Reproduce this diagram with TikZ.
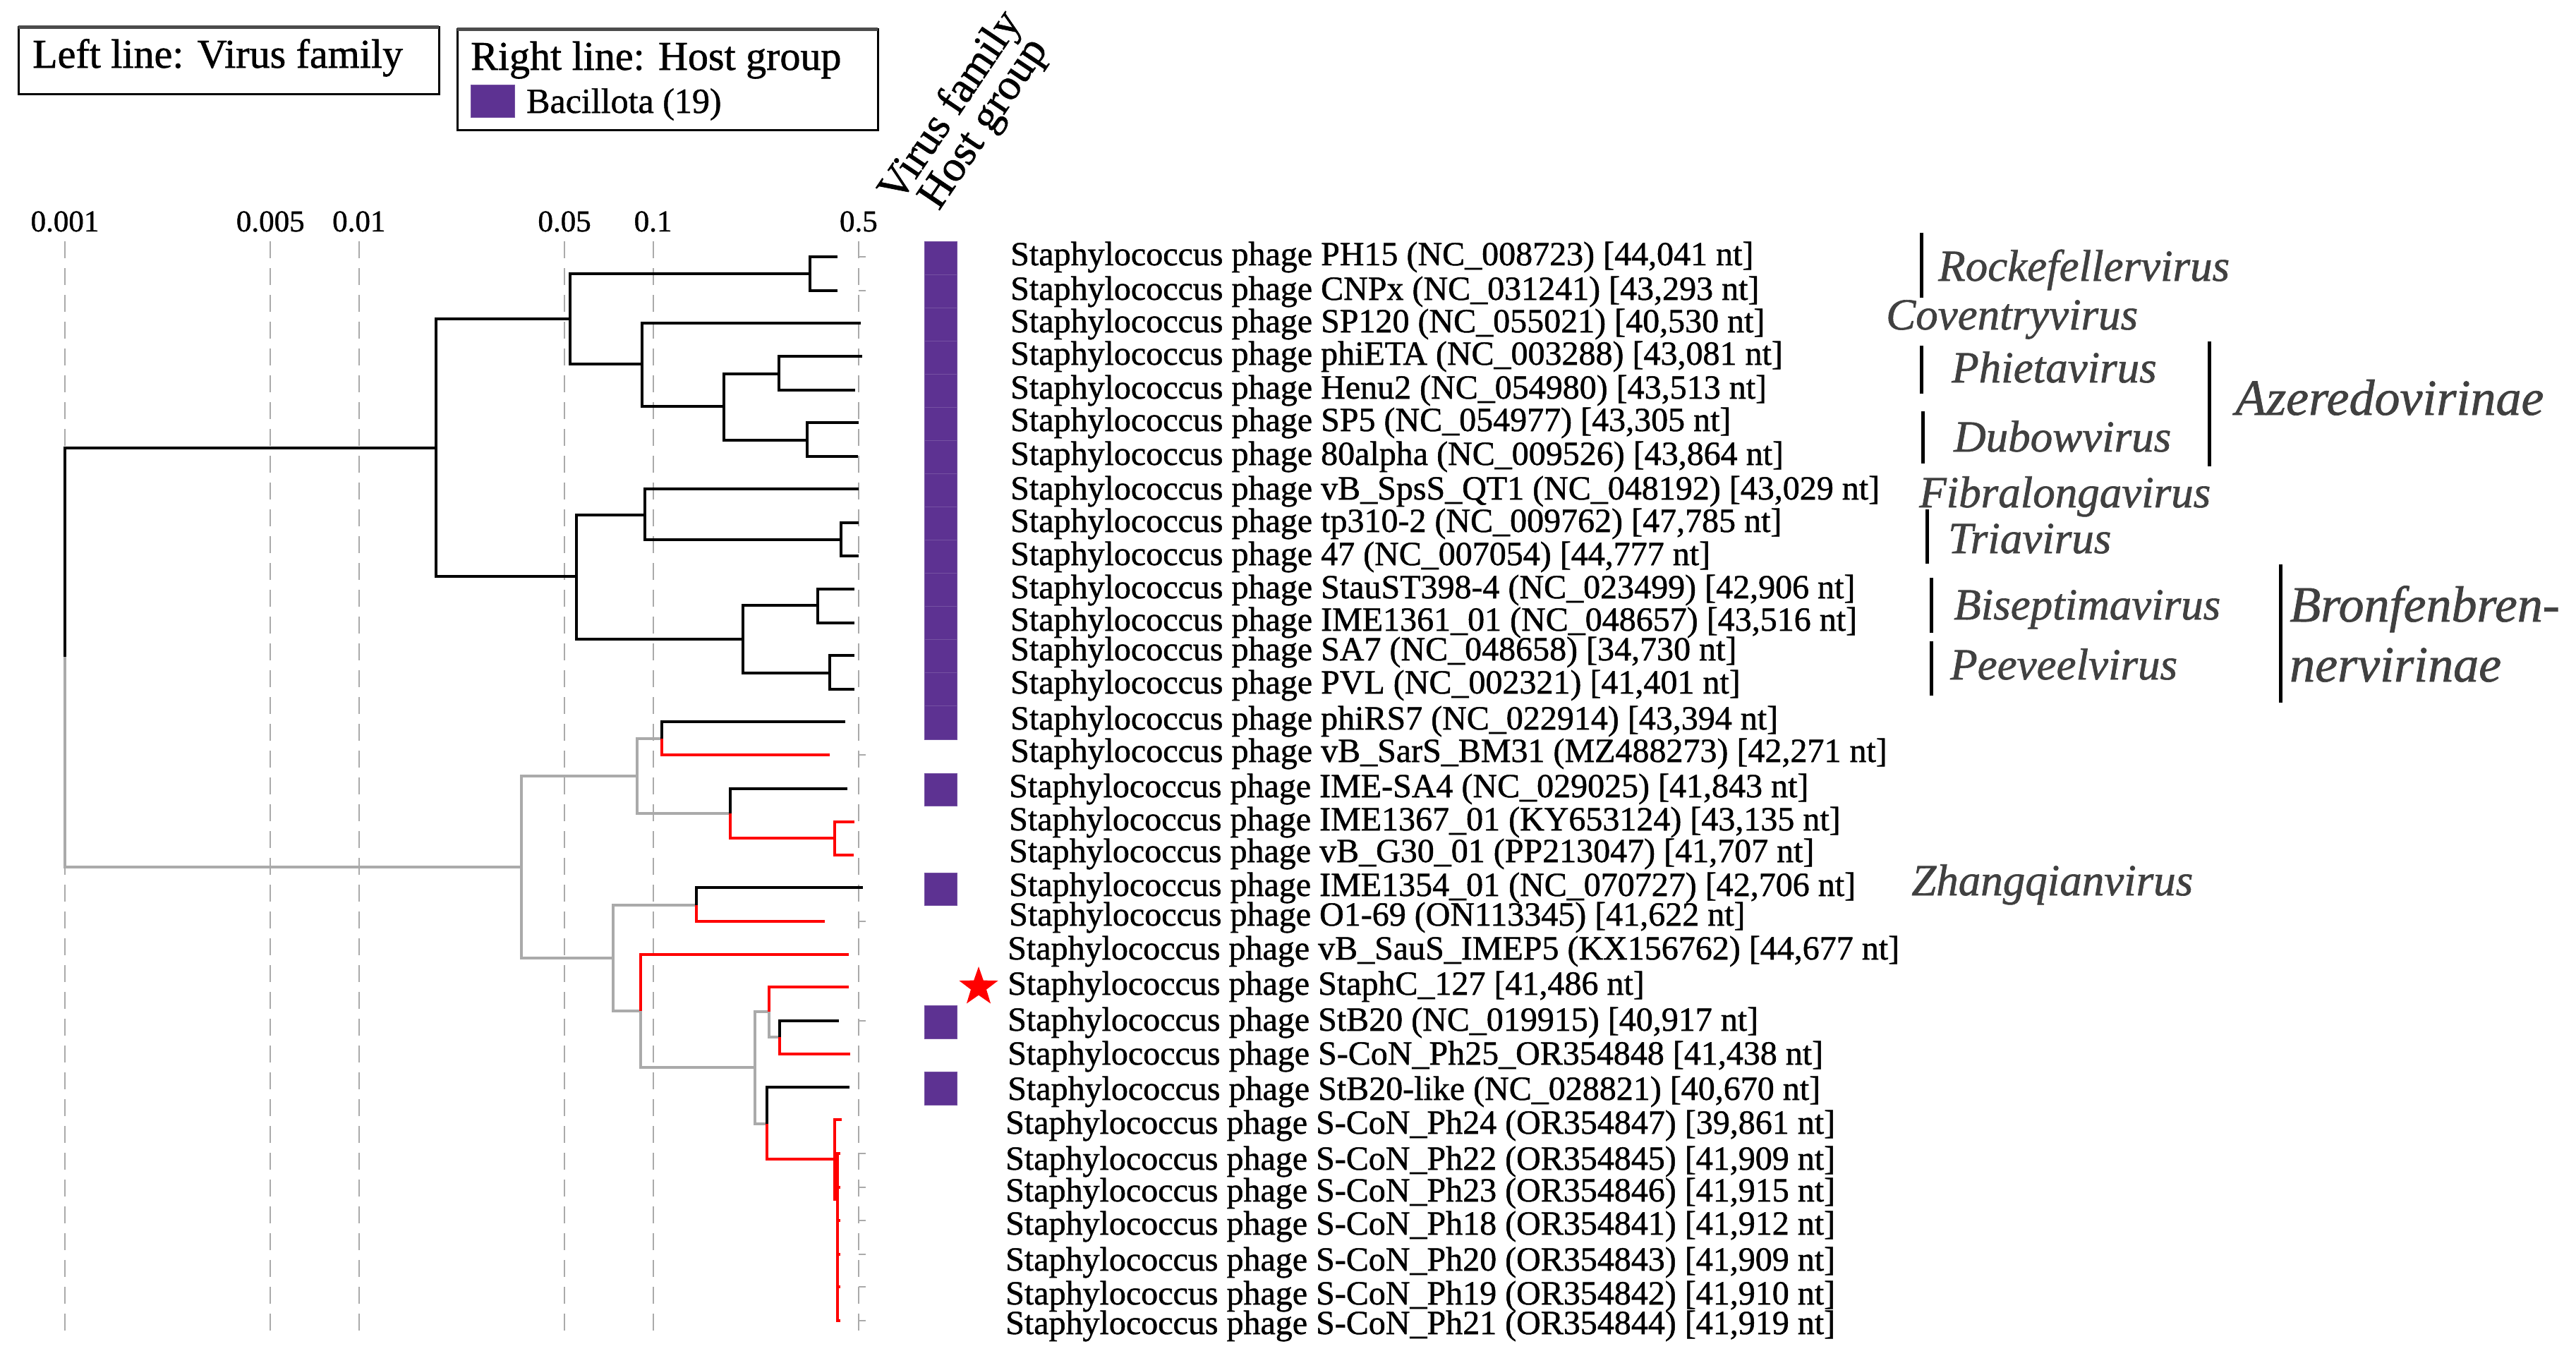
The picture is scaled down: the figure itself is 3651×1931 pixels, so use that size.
\documentclass[tikz,border=0pt]{standalone}
\usepackage{fontspec}
\setmainfont{Liberation Serif}[FakeBold=1]
\usetikzlibrary{shapes.geometric}
\definecolor{bacpurple}{RGB}{93,50,146}
\definecolor{treegrey}{RGB}{170,170,170}
\definecolor{genusgrey}{RGB}{64,64,64}
\begin{document}
\begin{tikzpicture}[x=1pt,y=-1pt,
  blk/.style={draw=black,line width=4pt},
  gry/.style={draw=treegrey,line width=4pt},
  rd/.style={draw=red,line width=4pt},
  grid/.style={draw=treegrey,line width=2.2pt,dash pattern=on 24pt off 14pt},
  tick/.style={draw=treegrey,line width=2.2pt},
  lab/.style={font=\fontsize{48}{50}\selectfont,inner sep=0pt,anchor=base west},
  axlab/.style={font=\fontsize{43}{45}\selectfont,inner sep=0pt},
  leg/.style={font=\fontsize{58}{60}\selectfont,inner sep=0pt,anchor=base west},
  genus/.style={font=\fontsize{63}{65}\selectfont\itshape,text=genusgrey,inner sep=0pt,anchor=base west},
  subfam/.style={font=\fontsize{72}{74}\selectfont\itshape,text=genusgrey,inner sep=0pt,anchor=base west},
  gbar/.style={draw=black,line width=5pt},
  cell/.style={fill=bacpurple,draw=bacpurple!85!white,line width=1pt},
  head/.style={font=\fontsize{62}{64}\selectfont,inner sep=0pt,rotate=56}
]
\useasboundingbox (0,0) rectangle (3651,1931);

% ---------- legends ----------
\draw[line width=3pt] (26,38) rectangle (622,133);
\draw[line width=5pt,draw=black!70] (26,38) -- (622,38);
\node[leg] (legL) at (46,96) {Left line: Virus family};
\draw[line width=3pt] (648,41) rectangle (1244,184);
\draw[line width=5pt,draw=black!70] (648,41) -- (1244,41);
\node[leg] (legR) at (667,99) {Right line: Host group};
\draw[cell] (667,120) rectangle (729,166);
\node[lab,font=\fontsize{50}{52}\selectfont] (legB) at (746,160) {Bacillota (19)};

% ---------- rotated headers ----------
\node[head] (hVF) at (1349,152) {Virus family};
\node[head] (hHG) at (1397,177) {Host group};

% ---------- axis ----------
\foreach \v/\x in {0.001/92,0.005/383.3,0.01/508.8,0.05/800.1,0.1/925.6,0.5/1216.9}{
  \node[axlab] (ax\v) at (\x,314) {\v};
  \draw[grid] (\x,342) -- (\x,1890);
}

% ---------- tree coordinates ----------
\coordinate (R) at (92,931);
\coordinate (A) at (618,635);
\coordinate (B) at (808,452);
\coordinate (C) at (1148,388);
\coordinate (D) at (910,516);
\coordinate (E) at (1026,576);
\coordinate (F) at (1104,530);
\coordinate (G) at (1144,624);
\coordinate (H) at (817,817);
\coordinate (I) at (914,730);
\coordinate (J) at (1192,765);
\coordinate (K) at (1053,906);
\coordinate (L) at (1159,858);
\coordinate (M) at (1176,954);
\coordinate (N) at (739,1229);
\coordinate (O) at (903,1100);
\coordinate (P) at (938,1047);
\coordinate (Q) at (1035,1153);
\coordinate (Rr) at (1183,1188);
\coordinate (S) at (869,1358);
\coordinate (T) at (987,1283);
\coordinate (U) at (908,1433);
\coordinate (V) at (1070,1513);
\coordinate (W) at (1090,1434);
\coordinate (X) at (1105,1470);
\coordinate (Y) at (1087,1593);
\coordinate (Z) at (1183,1643);
\coordinate (Zb) at (1187,1700);
% tips
\coordinate (t1) at (1187,364);
\coordinate (t2) at (1187,412);
\coordinate (t3) at (1220,458);
\coordinate (t4) at (1222,505);
\coordinate (t5) at (1212,553);
\coordinate (t6) at (1217,599);
\coordinate (t7) at (1216,647);
\coordinate (t8) at (1217,693);
\coordinate (t9) at (1217,741);
\coordinate (t10) at (1217,788);
\coordinate (t11) at (1211,835);
\coordinate (t12) at (1211,883);
\coordinate (t13) at (1211,929);
\coordinate (t14) at (1211,977);
\coordinate (t15) at (1198,1023);
\coordinate (t16) at (1176,1070);
\coordinate (t17) at (1201,1118);
\coordinate (t18) at (1211,1165);
\coordinate (t19) at (1210,1212);
\coordinate (t20) at (1223,1258);
\coordinate (t21) at (1169,1306);
\coordinate (t22) at (1203,1353);
\coordinate (t23) at (1203,1399);
\coordinate (t24) at (1189,1447);
\coordinate (t25) at (1205,1494);
\coordinate (t26) at (1204,1541);
\coordinate (t27) at (1193,1587);
\coordinate (t28) at (1191,1635);
\coordinate (t29) at (1191,1683);
\coordinate (t30) at (1191,1730);
\coordinate (t31) at (1191,1778);
\coordinate (t32) at (1191,1824);
\coordinate (t33) at (1191,1872);

% ---------- small leader ticks at 0.5 ----------
\foreach \y in {364,412,1070,1306,1447,1635,1683,1730,1778,1824,1872}{
  \draw[tick] (1217,\y) -- (1227,\y);
}

% ---------- tree edges ----------
\draw[blk] (R) |- (A);
\draw[gry] (R) |- (N);
\draw[blk] (A) |- (B);
\draw[blk] (A) |- (H);
\draw[blk] (B) |- (C);
\draw[blk] (B) |- (D);
\draw[blk] (C) |- (t1);
\draw[blk] (C) |- (t2);
\draw[blk] (D) |- (t3);
\draw[blk] (D) |- (E);
\draw[blk] (E) |- (F);
\draw[blk] (E) |- (G);
\draw[blk] (F) |- (t4);
\draw[blk] (F) |- (t5);
\draw[blk] (G) |- (t6);
\draw[blk] (G) |- (t7);
\draw[blk] (H) |- (I);
\draw[blk] (H) |- (K);
\draw[blk] (I) |- (t8);
\draw[blk] (I) |- (J);
\draw[blk] (J) |- (t9);
\draw[blk] (J) |- (t10);
\draw[blk] (K) |- (L);
\draw[blk] (K) |- (M);
\draw[blk] (L) |- (t11);
\draw[blk] (L) |- (t12);
\draw[blk] (M) |- (t13);
\draw[blk] (M) |- (t14);
\draw[gry] (N) |- (O);
\draw[gry] (N) |- (S);
\draw[gry] (O) |- (P);
\draw[gry] (O) |- (Q);
\draw[blk] (P) |- (t15);
\draw[rd] (P) |- (t16);
\draw[blk] (Q) |- (t17);
\draw[rd] (Q) |- (Rr);
\draw[rd] (Rr) |- (t18);
\draw[rd] (Rr) |- (t19);
\draw[gry] (S) |- (T);
\draw[gry] (S) |- (U);
\draw[blk] (T) |- (t20);
\draw[rd] (T) |- (t21);
\draw[rd] (U) |- (t22);
\draw[gry] (U) |- (V);
\draw[gry] (V) |- (W);
\draw[gry] (V) |- (Y);
\draw[rd] (W) |- (t23);
\draw[gry] (W) |- (X);
\draw[blk] (X) |- (t24);
\draw[rd] (X) |- (t25);
\draw[blk] (Y) |- (t26);
\draw[rd] (Y) |- (Z);
\draw[rd] (Z) |- (t27);
\draw[rd] (Z) |- (Zb);
\foreach \k in {28,...,33}{ \draw[rd] (Zb) |- (t\k); }

% ---------- host group cells ----------
\foreach \k in {0,...,14}{
  \draw[cell] (1310,{342+47.07*\k}) rectangle (1356,{342+47.07*(\k+1)});
}
\draw[cell] (1310,1096) rectangle (1356,1142);
\draw[cell] (1310,1237) rectangle (1356,1283);
\draw[cell] (1310,1425) rectangle (1356,1472);
\draw[cell] (1310,1519) rectangle (1356,1566);
\node[star,star points=5,star point ratio=2.5,fill=red,minimum size=58pt,inner sep=0pt] (star) at (1387,1399) {};

% ---------- labels ----------
\node[lab] (l1) at (1432,376) {Staphylococcus phage PH15 (NC\_008723) [44,041 nt]};
\node[lab] (l2) at (1432,425) {Staphylococcus phage CNPx (NC\_031241) [43,293 nt]};
\node[lab] (l3) at (1432,471) {Staphylococcus phage SP120 (NC\_055021) [40,530 nt]};
\node[lab] (l4) at (1432,517) {Staphylococcus phage phiETA (NC\_003288) [43,081 nt]};
\node[lab] (l5) at (1432,565) {Staphylococcus phage Henu2 (NC\_054980) [43,513 nt]};
\node[lab] (l6) at (1432,611) {Staphylococcus phage SP5 (NC\_054977) [43,305 nt]};
\node[lab] (l7) at (1432,659) {Staphylococcus phage 80alpha (NC\_009526) [43,864 nt]};
\node[lab] (l8) at (1432,708) {Staphylococcus phage vB\_SpsS\_QT1 (NC\_048192) [43,029 nt]};
\node[lab] (l9) at (1432,754) {Staphylococcus phage tp310-2 (NC\_009762) [47,785 nt]};
\node[lab] (l10) at (1432,801) {Staphylococcus phage 47 (NC\_007054) [44,777 nt]};
\node[lab] (l11) at (1432,848) {Staphylococcus phage StauST398-4 (NC\_023499) [42,906 nt]};
\node[lab] (l12) at (1432,894) {Staphylococcus phage IME1361\_01 (NC\_048657) [43,516 nt]};
\node[lab] (l13) at (1432,936) {Staphylococcus phage SA7 (NC\_048658) [34,730 nt]};
\node[lab] (l14) at (1432,983) {Staphylococcus phage PVL (NC\_002321) [41,401 nt]};
\node[lab] (l15) at (1432,1034) {Staphylococcus phage phiRS7 (NC\_022914) [43,394 nt]};
\node[lab] (l16) at (1432,1080) {Staphylococcus phage vB\_SarS\_BM31 (MZ488273) [42,271 nt]};
\node[lab] (l17) at (1430,1130) {Staphylococcus phage IME-SA4 (NC\_029025) [41,843 nt]};
\node[lab] (l18) at (1430,1177) {Staphylococcus phage IME1367\_01 (KY653124) [43,135 nt]};
\node[lab] (l19) at (1430,1222) {Staphylococcus phage vB\_G30\_01 (PP213047) [41,707 nt]};
\node[lab] (l20) at (1430,1270) {Staphylococcus phage IME1354\_01 (NC\_070727) [42,706 nt]};
\node[lab] (l21) at (1430,1312) {Staphylococcus phage O1-69 (ON113345) [41,622 nt]};
\node[lab] (l22) at (1428,1360) {Staphylococcus phage vB\_SauS\_IMEP5 (KX156762) [44,677 nt]};
\node[lab] (l23) at (1428,1410) {Staphylococcus phage StaphC\_127 [41,486 nt]};
\node[lab] (l24) at (1428,1461) {Staphylococcus phage StB20 (NC\_019915) [40,917 nt]};
\node[lab] (l25) at (1428,1509) {Staphylococcus phage S-CoN\_Ph25\_OR354848 [41,438 nt]};
\node[lab] (l26) at (1428,1559) {Staphylococcus phage StB20-like (NC\_028821) [40,670 nt]};
\node[lab] (l27) at (1425,1607) {Staphylococcus phage S-CoN\_Ph24 (OR354847) [39,861 nt]};
\node[lab] (l28) at (1425,1658) {Staphylococcus phage S-CoN\_Ph22 (OR354845) [41,909 nt]};
\node[lab] (l29) at (1425,1703) {Staphylococcus phage S-CoN\_Ph23 (OR354846) [41,915 nt]};
\node[lab] (l30) at (1425,1750) {Staphylococcus phage S-CoN\_Ph18 (OR354841) [41,912 nt]};
\node[lab] (l31) at (1425,1801) {Staphylococcus phage S-CoN\_Ph20 (OR354843) [41,909 nt]};
\node[lab] (l32) at (1425,1849) {Staphylococcus phage S-CoN\_Ph19 (OR354842) [41,910 nt]};
\node[lab] (l33) at (1425,1891) {Staphylococcus phage S-CoN\_Ph21 (OR354844) [41,919 nt]};

% ---------- taxonomy annotations ----------
\draw[gbar] (2723,330) -- (2723,422);
\node[genus] (gRock) at (2747,398) {Rockefellervirus};
\node[genus] (gCov) at (2673,467) {Coventryvirus};
\draw[gbar] (2723,490) -- (2723,558);
\node[genus] (gPhi) at (2766,542) {Phietavirus};
\draw[gbar] (2725,583) -- (2725,657);
\node[genus] (gDub) at (2769,640) {Dubowvirus};
\draw[gbar] (3131,484) -- (3131,661);
\node[subfam] (sAze) at (3168,588) {Azeredovirinae};
\node[genus] (gFib) at (2720,719) {Fibralongavirus};
\draw[gbar] (2731,722) -- (2731,799);
\node[genus] (gTri) at (2761,784) {Triavirus};
\draw[gbar] (2737,819) -- (2737,897);
\node[genus] (gBis) at (2769,878) {Biseptimavirus};
\draw[gbar] (2737,909) -- (2737,986);
\node[genus] (gPee) at (2764,963) {Peeveelvirus};
\draw[gbar] (3232,800) -- (3232,996);
\node[subfam] (sBro1) at (3245,881) {Bronfenbren-};
\node[subfam] (sBro2) at (3245,966) {nervirinae};
\node[genus] (gZha) at (2709,1269) {Zhangqianvirus};
\end{tikzpicture}
\end{document}
